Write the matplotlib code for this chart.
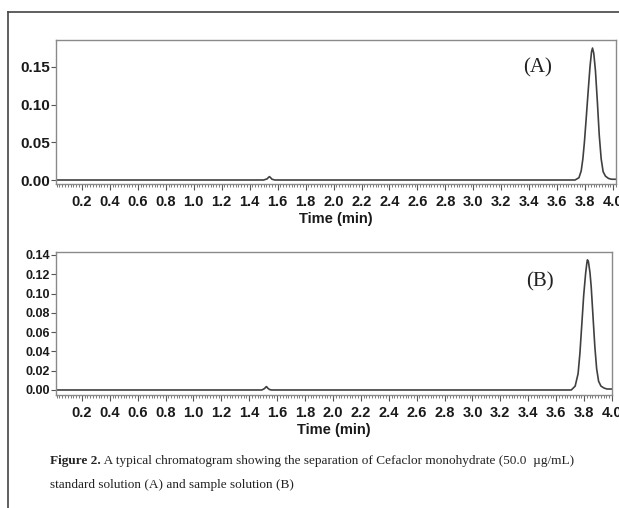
import matplotlib
matplotlib.use("Agg")
import matplotlib.pyplot as plt
from matplotlib.lines import Line2D
from matplotlib.ticker import MultipleLocator, FormatStrFormatter

# ---- data ----
time_a = [0.0, 1.50, 1.525, 1.535, 1.542, 1.55, 1.56, 1.58, 3.727, 3.755, 3.771, 3.783, 3.794,
          3.807, 3.821, 3.834, 3.845, 3.852, 3.861, 3.873, 3.887, 3.900, 3.914, 3.928, 3.945,
          3.967, 3.99, 4.03]
abs_a = [0.0, 0.0, 0.0015, 0.0035, 0.0045, 0.003, 0.001, 0.0, 0.0, 0.003, 0.012, 0.028, 0.050,
         0.082, 0.118, 0.150, 0.170, 0.175, 0.168, 0.145, 0.103, 0.060, 0.028, 0.011, 0.005,
         0.002, 0.001, 0.001]

time_b = [0.0, 1.49, 1.51, 1.518, 1.524, 1.532, 1.545, 1.56, 3.708, 3.736, 3.757, 3.770, 3.784,
          3.797, 3.811, 3.820, 3.824, 3.831, 3.842, 3.851, 3.864, 3.877, 3.890, 3.904, 3.921,
          3.943, 3.965, 4.03]
abs_b = [0.0, 0.0, 0.0015, 0.003, 0.0035, 0.002, 0.0005, 0.0, 0.0, 0.004, 0.017, 0.038, 0.069,
         0.098, 0.121, 0.132, 0.135, 0.133, 0.122, 0.107, 0.076, 0.045, 0.022, 0.009, 0.004,
         0.002, 0.001, 0.001]

x_ticks = [0.2, 0.4, 0.6, 0.8, 1.0, 1.2, 1.4, 1.6, 1.8, 2.0, 2.2, 2.4, 2.6, 2.8, 3.0, 3.2,
           3.4, 3.6, 3.8, 4.0]
y_ticks_a = [0.00, 0.05, 0.10, 0.15]
y_ticks_b = [0.00, 0.02, 0.04, 0.06, 0.08, 0.10, 0.12, 0.14]

panel_labels = ["(A)", "(B)"]
x_label = "Time (min)"
caption_bold = "Figure 2."
caption_1 = " A typical chromatogram showing the separation of Cefaclor monohydrate (50.0  \u00b5g/mL)"
caption_2 = "standard solution (A) and sample solution (B)"

# ---- figure ----
W, H = 619, 508
fig = plt.figure(figsize=(W / 100, H / 100), dpi=100)
fig.patch.set_facecolor("white")

sans = ["Liberation Sans", "DejaVu Sans"]
serif = ["Liberation Serif", "DejaVu Serif"]

def px_axes(l, t, r, b):
    return fig.add_axes([l / W, 1 - b / H, (r - l) / W, (b - t) / H])

ax_a = px_axes(56, 40, 616, 184)
ax_b = px_axes(56, 252, 612, 395)

line_col = "#404040"
spine_col = "#8a8a8a"

def style(ax, yt, ylim, xlim, ysize):
    ax.set_xlim(*xlim)
    ax.set_ylim(*ylim)
    for s in ax.spines.values():
        s.set_color(spine_col)
        s.set_linewidth(1.0)
    ax.set_xticks(x_ticks)
    ax.xaxis.set_major_formatter(FormatStrFormatter("%.1f"))
    ax.xaxis.set_minor_locator(MultipleLocator(0.02))
    ax.set_yticks(yt)
    ax.yaxis.set_major_formatter(FormatStrFormatter("%.2f"))
    ax.tick_params(axis="x", which="major", length=4, width=0.8, color="#555555", pad=4,
                   labelsize=10.5)
    ax.tick_params(axis="x", which="minor", length=2.5, width=0.7, color="#777777")
    ax.tick_params(axis="y", which="major", length=3.5, width=0.8, color="#555555", pad=1,
                   labelsize=ysize)
    for lab in ax.get_xticklabels() + ax.get_yticklabels():
        lab.set_family(sans)
        lab.set_fontweight("bold")
        lab.set_color("#1a1a1a")
    ax.set_xlabel(x_label, family=sans, fontweight="bold", fontsize=10.5, color="#1a1a1a",
                  labelpad=2)

ax_a.plot(time_a, abs_a, color=line_col, lw=1.2)
ax_b.plot(time_b, abs_b, color=line_col, lw=1.2)
style(ax_a, y_ticks_a, (-0.0053, 0.1857), (0.015, 4.02), 11)
style(ax_b, y_ticks_b, (-0.0052, 0.1431), (0.015, 3.99), 9)

fig.text(538 / W, 1 - 68 / H, panel_labels[0], fontsize=15, family=serif, ha="center",
         va="center", color="#222222")
fig.text(540 / W, 1 - 282 / H, panel_labels[1], fontsize=15, family=serif, ha="center",
         va="center", color="#222222")

# caption
t1 = fig.text(50 / W, 1 - 461 / H, caption_bold, fontsize=9.5, family=serif,
              fontweight="bold", ha="left", va="center", color="#222222")
fig.canvas.draw()
bb = t1.get_window_extent()
fig.text(bb.x1 / W, 1 - 461 / H, caption_1, fontsize=9.5, family=serif, ha="left",
         va="center", color="#222222")
fig.text(50 / W, 1 - 485 / H, caption_2, fontsize=9.5, family=serif, ha="left",
         va="center", color="#222222")

# outer frame (left and top rules)
fig.add_artist(Line2D([8 / W, 8 / W], [0, 1 - 12 / H], transform=fig.transFigure,
                      color="#444444", lw=1.2))
fig.add_artist(Line2D([8 / W, 1], [1 - 12 / H, 1 - 12 / H], transform=fig.transFigure,
                      color="#444444", lw=1.2))

fig.savefig("out.png", dpi=100)
